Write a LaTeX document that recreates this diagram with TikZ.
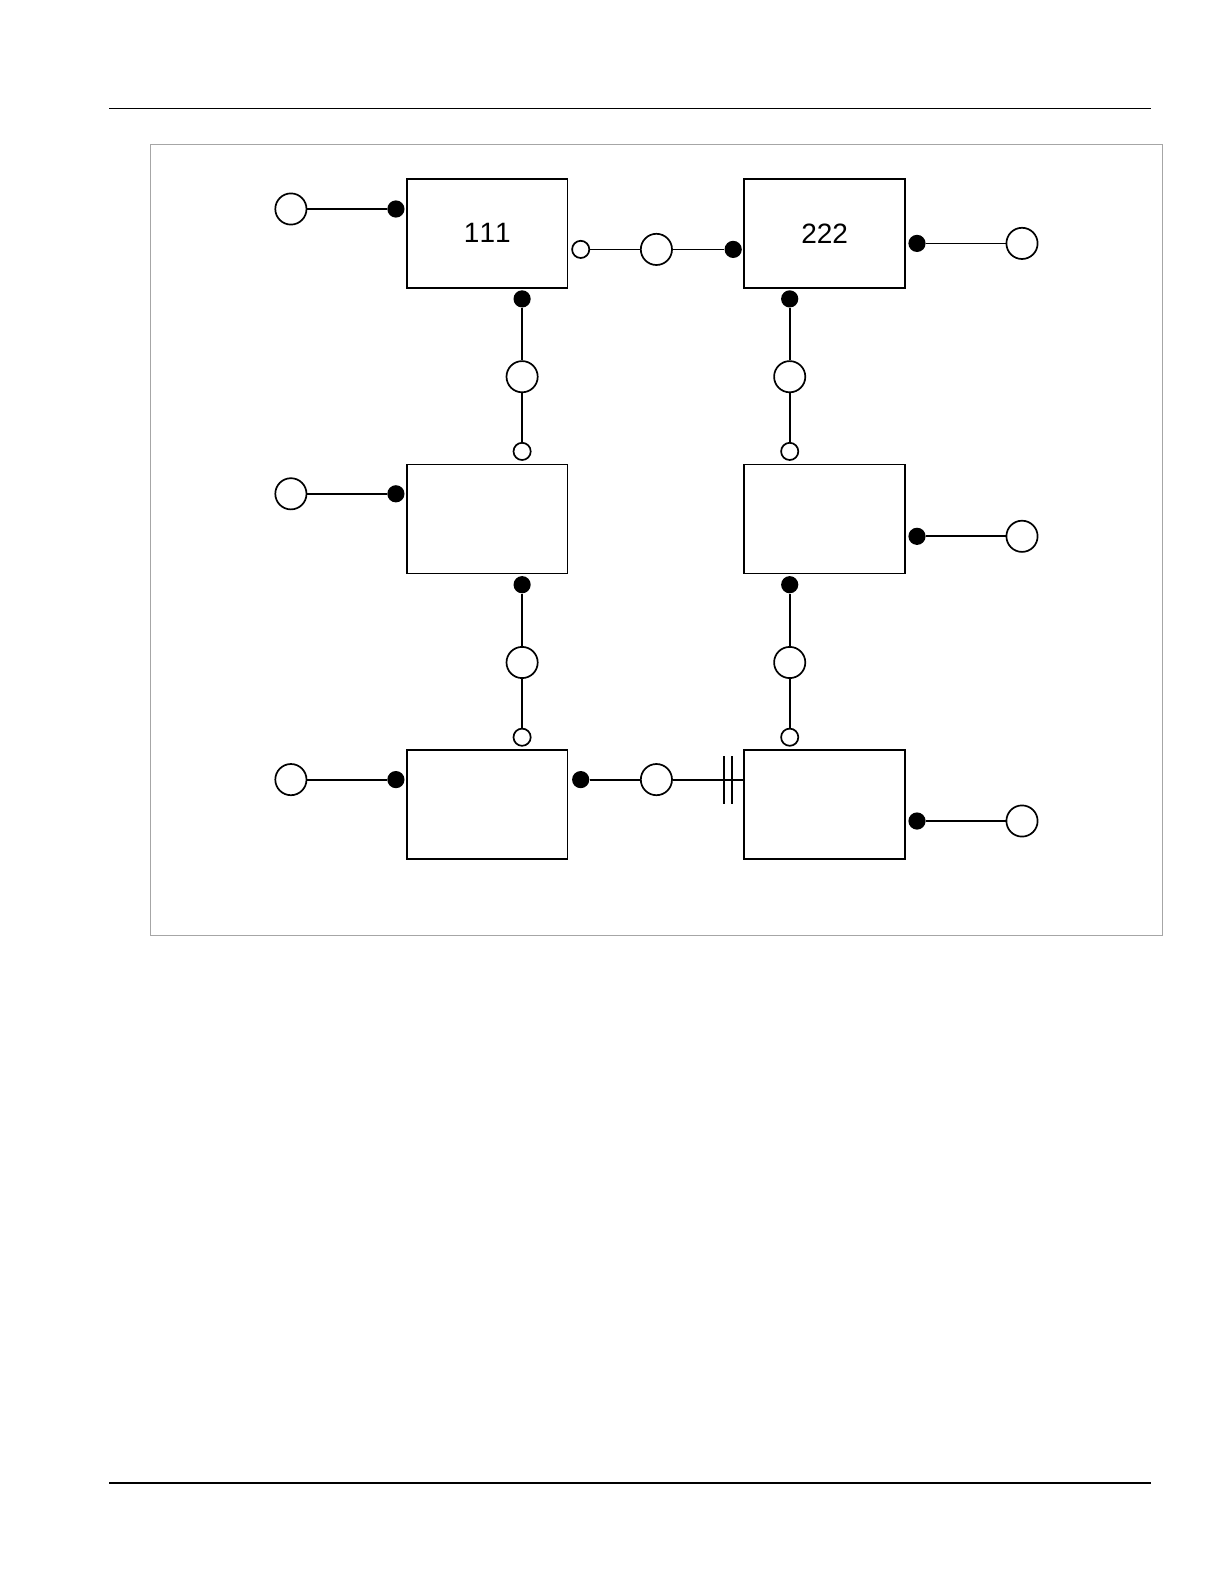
\documentclass[tikz,border=0pt]{standalone}
\usepackage{fontspec}
\setmainfont[Kerning=Off]{Liberation Sans}
\begin{document}
\begin{tikzpicture}[x=0.5pt,y=-0.5pt,
  conn/.style={line width=0.9pt,black},
  blk/.style={draw,line width=0.85pt,rectangle,minimum width=80.3pt,minimum height=54.5pt,inner sep=0pt,font=\fontsize{14}{17}\selectfont},
  bigc/.style={draw,line width=0.85pt,circle,minimum size=15.6pt,inner sep=0pt,fill=white},
  smc/.style={draw,line width=0.85pt,circle,minimum size=8.6pt,inner sep=0pt,fill=white},
  dot/.style={circle,fill=black,minimum size=8.6pt,inner sep=0pt}]
\useasboundingbox (0,0) rectangle (1224,1584);
% page rules and frame
\coordinate (h1) at (109,108.3);
\coordinate (h2) at (1151,108.3);
\coordinate (f1) at (109,1483);
\coordinate (f2) at (1151,1483);
\draw[line width=0.6pt] (h1) -- (h2);
\draw[line width=0.6pt] (f1) -- (f2);
\coordinate (fr1) at (150.5,144.4);
\coordinate (fr2) at (1162.4,935.2);
\draw[line width=0.6pt,color=black!35] (fr1) rectangle (fr2);
% boxes
\node[blk] (b1) at (487.3,233.3) {111};
\node[blk] (b2) at (824.6,233.3) {222};
\node[blk] (b3) at (487.3,519.1) {};
\node[blk] (b4) at (824.6,519.1) {};
\node[blk] (b5) at (487.3,804.5) {};
\node[blk] (b6) at (824.6,804.5) {};
% row 1
\node[bigc] (l1) at (290.9,209) {};
\node[dot] (ld1) at (395.9,209) {};
\draw[conn] (l1) -- (ld1);
\node[smc] (s12) at (580.7,249.4) {};
\node[bigc] (c12) at (656.4,249.4) {};
\node[dot] (d12) at (733.2,249.4) {};
\draw[conn] (s12) -- (c12) -- (d12);
\node[dot] (rd1) at (917,243.4) {};
\node[bigc] (r1) at (1022,243.4) {};
\draw[conn] (rd1) -- (r1);
% verticals row1->row2
\node[dot] (v1a) at (522.1,298.9) {};
\node[bigc] (v1b) at (522.1,376.7) {};
\node[smc] (v1c) at (522.1,451.4) {};
\draw[conn] (v1a) -- (v1b) -- (v1c);
\node[dot] (v2a) at (789.7,298.9) {};
\node[bigc] (v2b) at (789.7,376.7) {};
\node[smc] (v2c) at (789.7,451.4) {};
\draw[conn] (v2a) -- (v2b) -- (v2c);
% row 2
\node[bigc] (l2) at (290.9,493.8) {};
\node[dot] (ld2) at (395.9,493.8) {};
\draw[conn] (l2) -- (ld2);
\node[dot] (rd2) at (917,536.3) {};
\node[bigc] (r2) at (1022,536.3) {};
\draw[conn] (rd2) -- (r2);
% verticals row2->row3
\node[dot] (v3a) at (522.1,584.7) {};
\node[bigc] (v3b) at (522.1,662.5) {};
\node[smc] (v3c) at (522.1,737.2) {};
\draw[conn] (v3a) -- (v3b) -- (v3c);
\node[dot] (v4a) at (789.7,584.7) {};
\node[bigc] (v4b) at (789.7,662.5) {};
\node[smc] (v4c) at (789.7,737.2) {};
\draw[conn] (v4a) -- (v4b) -- (v4c);
% row 3
\node[bigc] (l3) at (290.9,779.6) {};
\node[dot] (ld3) at (395.9,779.6) {};
\draw[conn] (l3) -- (ld3);
\node[dot] (d56) at (580.7,779.6) {};
\node[bigc] (c56) at (656.4,779.6) {};
\draw[conn] (d56) -- (c56) -- (c56 -| b6.west);
\coordinate (bar1) at (724.3,779.6);
\coordinate (bar2) at (731.7,779.6);
\draw[conn] ([yshift=-12]bar1) -- ([yshift=12]bar1);
\draw[conn] ([yshift=-12]bar2) -- ([yshift=12]bar2);
\node[dot] (rd3) at (917,821) {};
\node[bigc] (r3) at (1022,821) {};
\draw[conn] (rd3) -- (r3);
\end{tikzpicture}
\end{document}
